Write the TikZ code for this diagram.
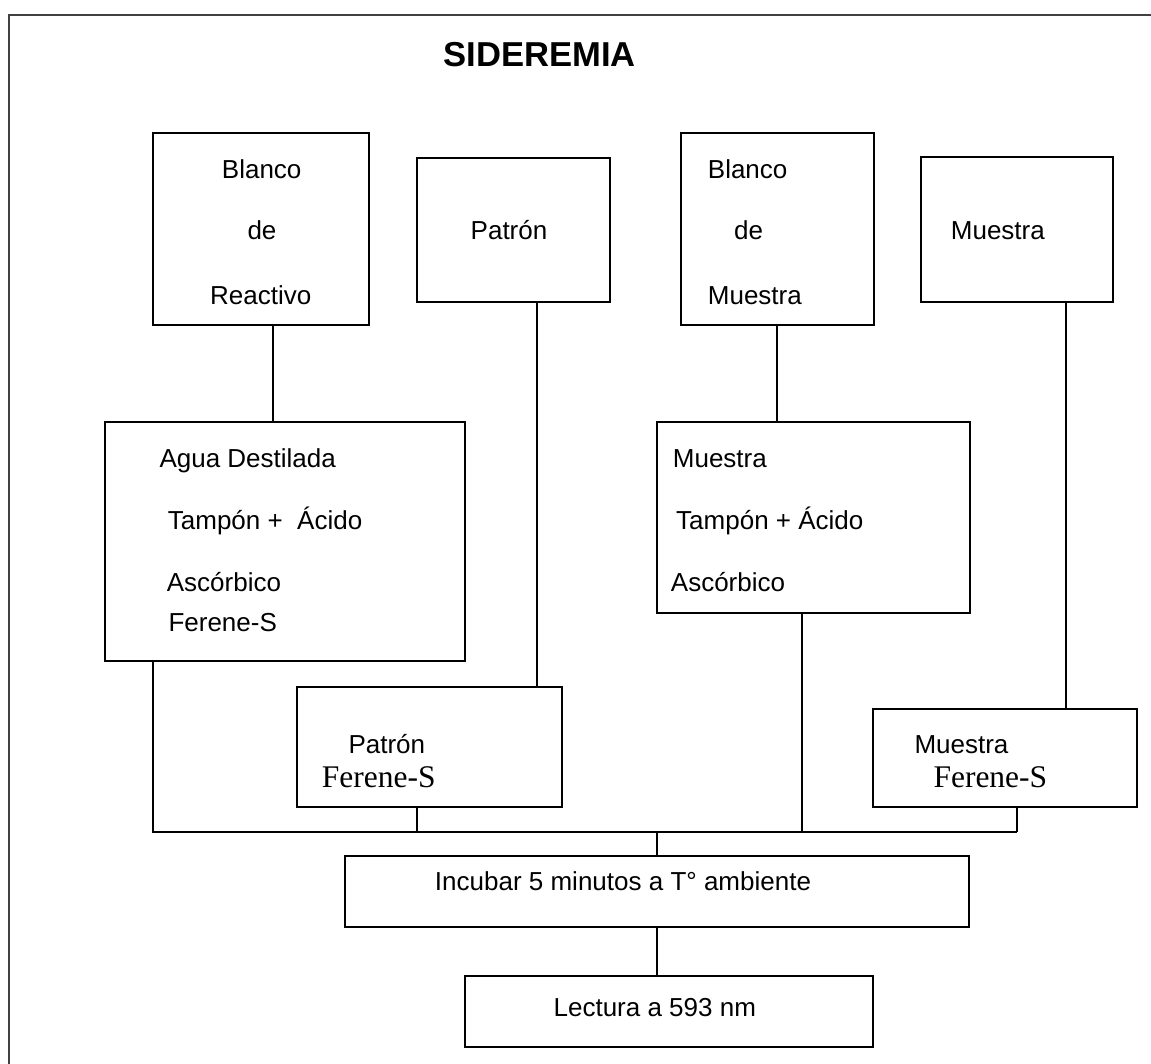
\documentclass[tikz,border=0pt]{standalone}
\usepackage{fontspec}
\setmainfont{Liberation Sans}
\newfontfamily\serifft{Liberation Serif}
\begin{document}
\begin{tikzpicture}[x=1pt,y=-1pt,
  box/.style={draw=black, line width=1.8pt, inner sep=0pt, outer sep=0pt, anchor=north west},
  ln/.style={line width=1.8pt},
  frm/.style={draw=black!75, line width=2pt},
  txt/.style={inner sep=0pt, anchor=base west, font=\fontsize{26}{30}\selectfont},
  ctxt/.style={inner sep=0pt, anchor=base, font=\fontsize{26}{30}\selectfont},
  stxt/.style={inner sep=0pt, anchor=base west, font=\serifft\fontsize{31.5}{35}\selectfont}]
\useasboundingbox (0,0) rectangle (1151,1064);
\clip (0,0) rectangle (1151,1064);
% frame
\draw[frm] (8.7,1100) -- (8.7,15.3) -- (1170,15.3);
% title
\node[inner sep=0pt, anchor=base, font=\bfseries\fontsize{34.6}{38}\selectfont] (title) at (539.5,67) {SIDEREMIA};
% boxes
\node[box, minimum width=216pt, minimum height=192pt] (b1) at (153,133) {};
\node[box, minimum width=192.7pt, minimum height=144pt] (b2) at (417,157.7) {};
\node[box, minimum width=192.4pt, minimum height=191.7pt] (b3) at (681.3,133.3) {};
\node[box, minimum width=192pt, minimum height=144.4pt] (b4) at (921.3,157.3) {};
\node[box, minimum width=360.6pt, minimum height=239pt] (agua) at (104.7,421.7) {};
\node[box, minimum width=312.7pt, minimum height=191pt] (mues) at (657.3,421.7) {};
\node[box, minimum width=264.4pt, minimum height=120pt] (patf) at (297.3,687.3) {};
\node[box, minimum width=264pt, minimum height=98pt] (muef) at (873.3,709.3) {};
\node[box, minimum width=624.6pt, minimum height=71.3pt] (inc) at (344.7,856) {};
\node[box, minimum width=408.3pt, minimum height=71.3pt] (lec) at (465,976) {};
% texts
\node[ctxt] (t1a) at (261.7,178.3) {Blanco};
\node[ctxt] (t1b) at (262,240) {de};
\node[ctxt] (t1c) at (260.7,304.3) {Reactivo};
\node[ctxt] (t2) at (509,240) {Patrón};
\node[txt] (t3a) at (707.7,178.3) {Blanco};
\node[txt] (t3b) at (734,240) {de};
\node[txt] (t3c) at (707.7,304.3) {Muestra};
\node[txt] (t4) at (950.7,240) {Muestra};
\node[txt] (ta1) at (159.3,467.3) {Agua Destilada};
\node[txt] (ta2) at (167.7,529.3) {Tampón +\ \ Ácido};
\node[txt] (ta3) at (166.7,591.7) {Ascórbico};
\node[txt] (ta4) at (168.3,631.7) {Ferene-S};
\node[txt] (tm1) at (672.7,467.7) {Muestra};
\node[txt] (tm2) at (676,529.3) {Tampón + Ácido};
\node[txt] (tm3) at (670.7,591.7) {Ascórbico};
\node[txt] (tp1) at (348.3,753.3) {Patrón};
\node[stxt] (tp2) at (321.7,787.3) {Ferene-S};
\node[txt] (tq1) at (914.3,753.3) {Muestra};
\node[stxt] (tq2) at (933.3,787.3) {Ferene-S};
\node[ctxt] (ti) at (623,890) {Incubar 5 minutos a T° ambiente};
\node[ctxt] (tl) at (654.8,1016) {Lectura a 593 nm};
% connector columns
\coordinate (c1) at (273,0);
\coordinate (c2) at (537,0);
\coordinate (c3) at (776.7,0);
\coordinate (c4) at (1065.7,0);
\coordinate (c5) at (152.7,0);
\coordinate (c6) at (417.3,0);
\coordinate (c7) at (801.7,0);
\coordinate (c8) at (657.3,0);
\coordinate (busL) at (152.7,831.7);
\coordinate (busR) at (1017.3,831.7);
% connectors
\draw[ln] (c1 |- b1.south) -- (c1 |- agua.north);
\draw[ln] (c2 |- b2.south) -- (c2 |- patf.north);
\draw[ln] (c3 |- b3.south) -- (c3 |- mues.north);
\draw[ln] (c4 |- b4.south) -- (c4 |- muef.north);
\draw[ln] (c5 |- agua.south) -- (busL) -- (busR);
\draw[ln] (c6 |- patf.south) -- (c6 |- busL);
\draw[ln] (c7 |- mues.south) -- (c7 |- busL);
\draw[ln] (busR |- muef.south) -- (busR);
\draw[ln] (c8 |- busL) -- (c8 |- inc.north);
\draw[ln] (c8 |- inc.south) -- (c8 |- lec.north);
\end{tikzpicture}
\end{document}
